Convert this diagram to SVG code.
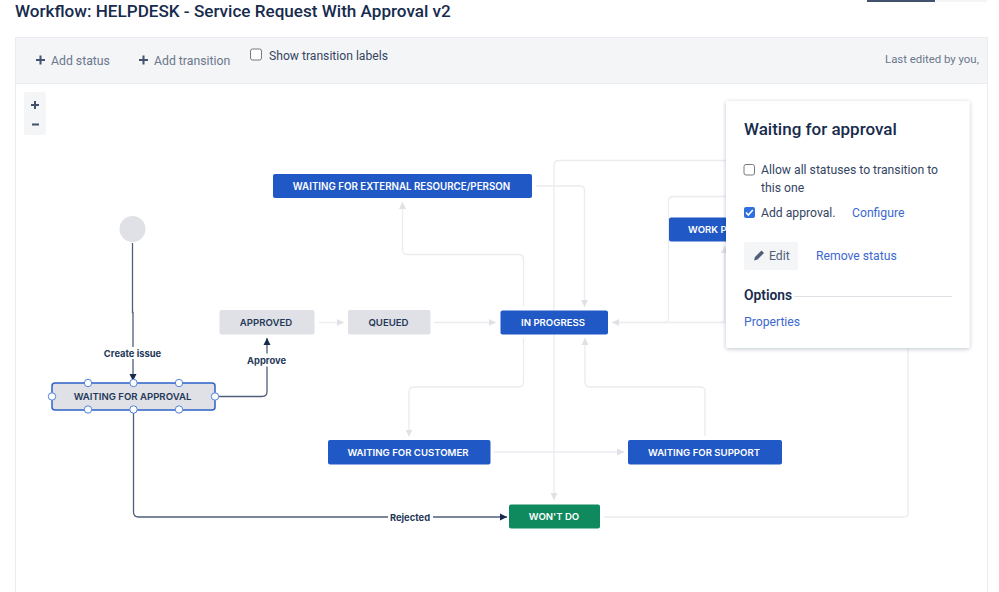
<svg xmlns="http://www.w3.org/2000/svg" width="999" height="592" viewBox="0 0 999 592">
<style>
text{font-family:Roboto,"Liberation Sans",sans-serif}
.n{font-family:Inter,"Liberation Sans",sans-serif;font-size:9.6px;font-weight:600;text-anchor:middle}
.w{fill:#fff}.g{fill:#253858}
.blue{fill:#2058c6}.grey{fill:#dfe1e6}
.l{fill:none;stroke:#ebecf0;stroke-width:1.3}
.d{fill:none;stroke:#505f79;stroke-width:1.3}
.lb{font-family:Inter,"Liberation Sans",sans-serif;font-size:9.4px;font-weight:700;text-anchor:middle;fill:#253858}
.h{fill:#fff;stroke:#4f82dc;stroke-width:1}
.tb{font-size:12.25px;fill:#6b778c}
.p{font-size:12.2px;fill:#344563}
.a{font-size:12.2px;fill:#3c68d0}
.ic{stroke-width:2;fill:none}
</style>
<defs>
<marker id="la" markerUnits="userSpaceOnUse" markerWidth="8" markerHeight="8" refX="7" refY="4" orient="auto"><path d="M0 .5L7 4L0 7.5Z" fill="#dfe1e6"/></marker>
<marker id="da" markerUnits="userSpaceOnUse" markerWidth="8" markerHeight="8" refX="7" refY="4" orient="auto"><path d="M0 .5L7 4L0 7.5Z" fill="#172b4d"/></marker>
<filter id="sh" x="-10%" y="-10%" width="120%" height="120%"><feDropShadow dx="0" dy="1" stdDeviation="2" flood-color="#091e42" flood-opacity=".25"/></filter>
</defs>
<rect width="999" height="592" fill="#fff"/>
<g id="page">
<text x="15" y="17" font-size="17.100" font-weight="500" fill="#172b4d">Workflow: HELPDESK - Service Request With Approval v2</text>
<rect x="867" y="0" width="68" height="2" fill="#42526e"/>
<rect x="936" y="0" width="51" height="2" fill="#f4f5f7"/>
<rect x="15.500" y="37.500" width="972" height="570" fill="#fff" stroke="#ebecf0"/>
<rect x="16" y="38" width="971" height="45" fill="#f4f5f7"/>
<path d="M16 83.500H987" stroke="#ebecf0"/>
<path class="ic" stroke="#42526e" d="M36 60h9M40.500 55.500v9M139 60h9M143.500 55.500v9"/>
<text class="tb" x="51" y="64.500">Add status</text>
<text class="tb" x="154" y="64.500">Add transition</text>
<rect x="250.500" y="49" width="11" height="11" rx="2" fill="#fff" stroke="#76797f"/>
<text x="269" y="60" font-size="12.150" fill="#344563">Show transition labels</text>
<text x="885" y="63" font-size="11.400" fill="#6b778c">Last edited by you,</text>
<rect x="24" y="92" width="22" height="43" rx="2" fill="#f4f5f7"/>
<path class="ic" stroke="#42526e" d="M31 105h8M35 101v8M32 124.500h7"/>
</g>
<g id="connectors">
<path class="l" d="M536 186H580Q584.500 186 584.500 190V307" marker-end="url(#la)"/>
<path class="l" d="M523.500 306V259Q523.500 254.500 519 254.500H407Q402.500 254.500 402.500 250V202" marker-end="url(#la)"/>
<path class="l" d="M740 160.500H559Q554 160.500 554 165V500" marker-end="url(#la)"/>
<path class="l" d="M434 322.500H496" marker-end="url(#la)"/>
<path class="l" d="M319 322.500H344" marker-end="url(#la)"/>
<path class="l" d="M523.500 338V382Q523.500 387 519 387H414Q409 387 409 392V436.500" marker-end="url(#la)"/>
<path class="l" d="M705 436V391Q705 387 700 387H590Q585 387 585 382V338" marker-end="url(#la)"/>
<path class="l" d="M494 452H624" marker-end="url(#la)"/>
<path class="l" d="M604 517H904Q908 517 908 513V340"/>
<path class="l" d="M730 322.500H612" marker-end="url(#la)"/>
<path class="l" d="M664 322.500Q668.500 322.500 668.500 318V201Q668.500 196.500 673 196.500H740"/>
<path class="l" d="M720 322.500Q724.500 322.500 724.500 318V246" marker-end="url(#la)"/>
<path class="d" d="M132.500 243V312.500H133V381" marker-end="url(#da)"/>
<path class="d" d="M219 396.500H262Q267 396.500 267 391.500V338" marker-end="url(#da)"/>
<path class="d" d="M133.500 410V512Q133.500 517 138.500 517H507" marker-end="url(#da)"/>
<g id="label-create"><rect x="103" y="347" width="60" height="12" fill="#fff"/><text class="lb" x="132.500" y="356.800">Create issue</text></g>
<g id="label-approve"><rect x="246" y="353.500" width="41" height="13" fill="#fff"/><text class="lb" x="266.500" y="363.800">Approve</text></g>
<g id="label-rejected"><rect x="388" y="511" width="45" height="12" fill="#fff"/><text class="lb" x="410" y="520.500">Rejected</text></g>
</g>
<g id="start"><circle cx="132.500" cy="229" r="13" fill="#dfe1e6"/></g>
<g id="waiting-for-approval">
<rect x="52" y="383" width="163" height="27" rx="3" fill="#dfe1e6" stroke="#2d62c8" stroke-width="1.500"/>
<text class="n g" x="132.500" y="400">WAITING FOR APPROVAL</text>
<circle class="h" cx="88" cy="383" r="3.700"/><circle class="h" cx="133.500" cy="383" r="3.700"/><circle class="h" cx="179" cy="383" r="3.700"/>
<circle class="h" cx="88" cy="409.500" r="3.700"/><circle class="h" cx="133.500" cy="409.500" r="3.700"/><circle class="h" cx="179" cy="409.500" r="3.700"/>
<circle class="h" cx="52" cy="396.500" r="3.700"/><circle class="h" cx="215" cy="396.500" r="3.700"/>
</g>
<g id="approved"><rect class="grey" x="219.500" y="310" width="95" height="24.500" rx="2"/><text class="n g" x="266" y="326">APPROVED</text></g>
<g id="queued"><rect class="grey" x="348" y="310" width="82.500" height="24.500" rx="2"/><text class="n g" x="388.500" y="326">QUEUED</text></g>
<g id="in-progress"><rect class="blue" x="500.500" y="310.500" width="107.500" height="24" rx="2"/><text class="n w" x="553" y="326">IN PROGRESS</text></g>
<g id="waiting-external"><rect class="blue" x="273" y="174" width="259" height="24" rx="2"/><text class="n w" x="401.500" y="189.500" style="font-size:9.75px">WAITING FOR EXTERNAL RESOURCE/PERSON</text></g>
<g id="work-p"><rect class="blue" x="669" y="217.500" width="80" height="24" rx="2"/><text class="n w" x="688" y="233" style="text-anchor:start">WORK P</text></g>
<g id="waiting-customer"><rect class="blue" x="328" y="440" width="162.500" height="24.500" rx="2"/><text class="n w" x="408" y="455.500">WAITING FOR CUSTOMER</text></g>
<g id="waiting-support"><rect class="blue" x="628" y="440" width="154" height="24.500" rx="2"/><text class="n w" x="704" y="455.500">WAITING FOR SUPPORT</text></g>
<g id="wont-do"><rect x="509" y="504.500" width="91" height="24" rx="2" fill="#0f8a5f"/><text class="n w" x="554" y="520">WON'T DO</text></g>
<g id="status-panel">
<rect x="726" y="101" width="243.500" height="247" rx="2" fill="#fff" filter="url(#sh)"/>
<text x="744" y="135" font-size="17" font-weight="500" fill="#172b4d">Waiting for approval</text>
<rect x="744" y="164.500" width="10.500" height="10.500" rx="2" fill="#fff" stroke="#76797f"/>
<text class="p" x="761" y="174">Allow all statuses to transition to</text>
<text class="p" x="761" y="191.500">this one</text>
<rect x="744" y="207" width="11" height="11" rx="2" fill="#2f6fe0"/>
<path d="M746 212.500l2.300 2.500 4.500-5" fill="none" stroke="#fff" stroke-width="1.600"/>
<text class="p" x="761" y="216.500">Add approval.</text>
<text class="a" x="852" y="216.500">Configure</text>
<rect x="744" y="242" width="54" height="28" rx="2" fill="#f4f5f7"/>
<path d="M754 260.500l1-3.500 6.500-6.500 2.500 2.500-6.500 6.500Z" fill="#505f79"/>
<text x="769" y="260" font-size="12.250" fill="#505f79">Edit</text>
<text class="a" x="816" y="260">Remove status</text>
<text x="744" y="300" font-size="13.800" font-weight="600" fill="#172b4d">Options</text>
<path d="M794 296.500H952" stroke="#dfe1e6"/>
<text class="a" x="744" y="326">Properties</text>
</g>
</svg>
